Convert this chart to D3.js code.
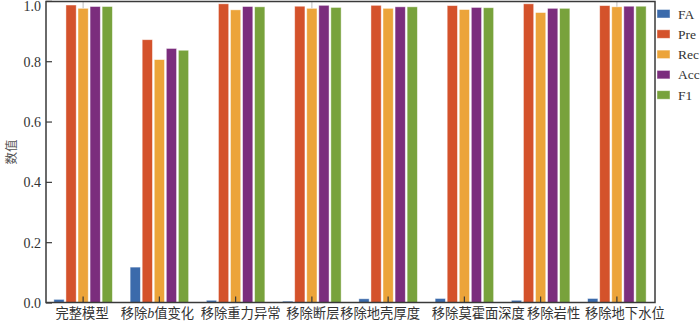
<!DOCTYPE html>
<html><head><meta charset="utf-8">
<script src="https://cdn.jsdelivr.net/npm/d3@7"></script>
<style>html,body{margin:0;padding:0;background:#fff;}svg{display:block;}</style>
</head><body>
<svg id="chart" width="700" height="322"></svg>
<script>
// ---- data ----
const categories = ["完整模型","移除b值变化","移除重力异常","移除断层","移除地壳厚度","移除莫霍面深度","移除岩性","移除地下水位"];
const seriesNames = ["FA","Pre","Rec","Acc","F1"];
const FA  = [0.012,0.119,0.009,0.006,0.014,0.015,0.009,0.015];
const Pre = [0.988,0.873,0.992,0.984,0.987,0.986,0.992,0.986];
const Rec = [0.977,0.807,0.972,0.977,0.977,0.973,0.963,0.982];
const Acc = [0.983,0.844,0.983,0.987,0.982,0.980,0.977,0.984];
const F1  = [0.983,0.838,0.982,0.980,0.982,0.979,0.977,0.984];
const recErr = [0.03,0,0,0.03,0,0,0,0.03];
const yTicks = [0.0,0.2,0.4,0.6,0.8,1.0];
const yLabel = "数值";

// ---- layout / style ----
const colors = ["#3b6aab","#d4522b","#eca43a","#7b2d7d","#78a23c"];
const labelDx = [-1,-2,5,1,-8,14,13,8];
const pLeft = 46, pRight = 655, pTop = 1.5, pBottom = 302.5;
const serif = "'Liberation Serif','DejaVu Serif',serif";
const cjk = "'Noto Sans CJK SC','Noto Sans CJK JP',sans-serif";
const axisColor = "#3a3a3a";

const svg = d3.select("#chart");
const values = [FA,Pre,Rec,Acc,F1];

const x0 = d3.scaleBand().domain(categories).range([45, 655]).padding(0);
const x1 = d3.scaleBand().domain(seriesNames)
  .range([(x0.bandwidth()-58.5)/2, (x0.bandwidth()+58.5)/2]).paddingInner(0.15).paddingOuter(0);
const y = d3.scaleLinear().domain([0,1]).range([303, 1.4]);

// bars
const g = svg.append("g");
seriesNames.forEach((s, si) => {
  g.selectAll(".b"+si).data(categories).enter().append("rect")
    .attr("x", c => x0(c) + x1(s))
    .attr("width", x1.bandwidth())
    .attr("y", (c,i) => y(values[si][i]))
    .attr("height", (c,i) => y(0) - y(values[si][i]))
    .attr("fill", colors[si])
    .attr("stroke", "rgba(255,255,255,0.55)")
    .attr("stroke-width", 0.8);
});

// error lines above Rec
categories.forEach((c, i) => {
  if (recErr[i] <= 0) return;
  const cx = x0(c) + x1("Rec") + x1.bandwidth()/2;
  g.append("line").attr("x1", cx).attr("x2", cx)
    .attr("y1", y(Rec[i])).attr("y2", y(Math.min(1, Rec[i]+recErr[i])))
    .attr("stroke", "#c8c8c8").attr("stroke-width", 1.2);
});

// frame
svg.append("rect").attr("x", pLeft).attr("y", pTop).attr("width", pRight-pLeft).attr("height", pBottom-pTop)
  .attr("fill","none").attr("stroke", axisColor).attr("stroke-width", 1.5);

// y axis ticks (inward)
const yAxis = svg.append("g");
yTicks.forEach(t => {
  yAxis.append("line").attr("x1", pLeft).attr("x2", pLeft+6).attr("y1", y(t)).attr("y2", y(t))
    .attr("stroke", axisColor).attr("stroke-width", 1.2);
  yAxis.append("text").attr("x", 41).attr("y", y(t) + (t===1 ? 4.5 : 0))
    .attr("dy", "0.35em").attr("text-anchor","end")
    .attr("font-family", serif).attr("font-size", 14).attr("fill", "#333")
    .text(d3.format(".1f")(t));
});

// x axis ticks (inward) and labels
const xAxis = svg.append("g");
categories.forEach((c, i) => {
  const cx = x0(c) + x0.bandwidth()/2;
  xAxis.append("line").attr("x1", cx).attr("x2", cx).attr("y1", pBottom).attr("y2", pBottom-6)
    .attr("stroke", axisColor).attr("stroke-width", 1.2);
  const t = xAxis.append("text").attr("x", cx + labelDx[i]).attr("y", 318)
    .attr("text-anchor","middle").attr("font-family", cjk).attr("font-size", 13.3)
    .attr("fill", "#333");
  const m = c.match(/^(.*?)([A-Za-z]+)(.*)$/);
  if (m) {
    t.append("tspan").text(m[1]);
    t.append("tspan").attr("font-family", serif).attr("font-style","italic").attr("font-size", 14).text(m[2]);
    t.append("tspan").text(m[3]);
  } else t.text(c);
});

// y label
svg.append("text").attr("transform", "translate(16,152) rotate(-90)")
  .attr("text-anchor","middle").attr("font-family", cjk).attr("font-size", 12.5)
  .attr("fill","#555").text(yLabel);

// legend
const leg = svg.append("g");
seriesNames.forEach((s, si) => {
  const yy = 9.5 + si*20.3;
  leg.append("rect").attr("x", 657).attr("y", yy).attr("width", 13).attr("height", 8.5)
    .attr("fill", colors[si]).attr("stroke","rgba(255,255,255,0.55)").attr("stroke-width",0.8);
  leg.append("text").attr("x", 678).attr("y", yy + 4.3).attr("dy","0.35em")
    .attr("font-family", serif).attr("font-size", 13.5).attr("fill","#333").text(s);
});
</script>
</body></html>
